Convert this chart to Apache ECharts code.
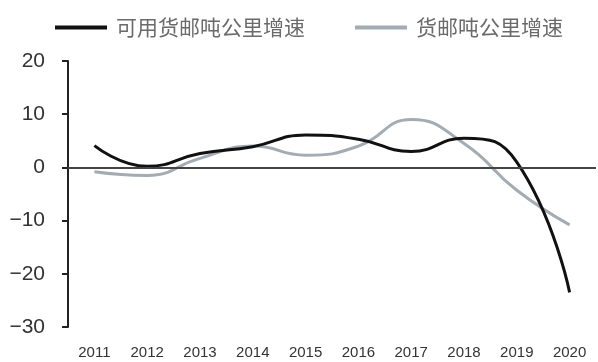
<!DOCTYPE html>
<html><head><meta charset="utf-8">
<script src="https://cdn.jsdelivr.net/npm/echarts@6/dist/echarts.min.js"></script>
<style>html,body{margin:0;padding:0;background:#fff}#c{width:598px;height:362px}</style>
</head><body><div id="c"></div>
<script>
const years = ['2011','2012','2013','2014','2015','2016','2017','2018','2019','2020'];
const availableGrowth = [4.1, 0.2, 2.6, 3.9, 6.1, 5.3, 3.0, 5.5, 1.0, -23.5];
const cargoGrowth = [-0.8, -1.5, 1.7, 4.0, 2.3, 4.0, 9.0, 4.5, -4.3, -10.8];
const seriesNames = ['可用货邮吨公里增速', '货邮吨公里增速'];
const yTicks = {min: -30, max: 20, interval: 10};

const chart = echarts.init(document.getElementById('c'));
chart.setOption({
  animation: false,
  legend: {
    top: 12, left: 50,
    itemGap: 50, itemWidth: 52, itemHeight: 4,
    icon: 'rect',
    textStyle: {fontFamily: 'Noto Sans CJK SC', fontSize: 21, color: '#6a6a6a', padding: [0, 0, 0, 4]},
    data: seriesNames
  },
  grid: {left: 68, right: 2, top: 61, bottom: 35},
  xAxis: {
    type: 'category', data: years, boundaryGap: true,
    position: 'bottom',
    axisLine: {show: false, onZero: false},
    axisTick: {show: false},
    axisLabel: {fontFamily: 'Liberation Sans', fontSize: 15, color: '#333', margin: 18, interval: 0}
  },
  yAxis: {
    type: 'value', min: yTicks.min, max: yTicks.max, interval: yTicks.interval,
    axisLine: {show: true, lineStyle: {color: '#222', width: 2}},
    axisTick: {show: true, length: 6, lineStyle: {color: '#222', width: 2}},
    splitLine: {show: false},
    axisLabel: {
      fontFamily: 'Liberation Sans', fontSize: 21, color: '#333', margin: 23,
      formatter: v => String(v).replace('-', '\u2212')
    }
  },
  series: [
    {
      name: seriesNames[0], type: 'line', data: availableGrowth, smooth: 0.5,
      symbol: 'none', color: '#111', lineStyle: {width: 3, color: '#111'}, z: 3,
      markLine: {
        silent: true, symbol: 'none', label: {show: false},
        lineStyle: {color: '#444', width: 2, type: 'solid'},
        data: [{yAxis: 0}]
      }
    },
    {
      name: seriesNames[1], type: 'line', data: cargoGrowth, smooth: 0.5,
      symbol: 'none', color: '#a3abb3', lineStyle: {width: 3, color: '#a3abb3'}, z: 2
    }
  ]
});
</script></body></html>
